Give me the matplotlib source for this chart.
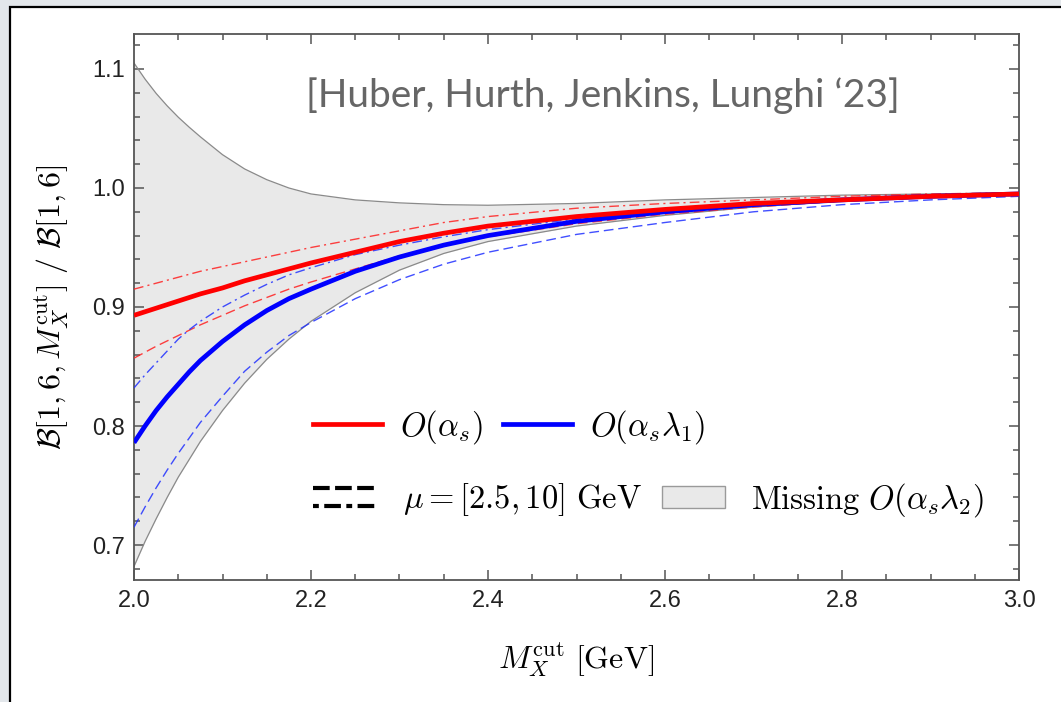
import numpy as np
import matplotlib
matplotlib.use("Agg")
import matplotlib.pyplot as plt
from matplotlib.patches import Rectangle, Patch
from matplotlib.lines import Line2D
from matplotlib.legend_handler import HandlerBase
from matplotlib.ticker import MultipleLocator

plt.rcParams['mathtext.fontset'] = 'cm'
plt.rcParams['font.family'] = ['Liberation Sans', 'DejaVu Sans']

# cut values M_X^cut [GeV]
mcut = [2.0, 2.0125, 2.025, 2.0375, 2.05, 2.0625, 2.075, 2.0875, 2.1, 2.125, 2.15,
        2.175, 2.2, 2.25, 2.3, 2.35, 2.4, 2.5, 2.6, 2.7, 2.8, 2.9, 3.0]

# missing O(alpha_s lambda_2) band
band_hi = [1.105, 1.0915, 1.0795, 1.069, 1.0595, 1.051, 1.043, 1.0355, 1.028, 1.016,
           1.007, 1.000, 0.995, 0.990, 0.9875, 0.986, 0.9855, 0.987, 0.990, 0.992,
           0.994, 0.995, 0.996]
band_lo = [0.682, 0.703, 0.722, 0.740, 0.757, 0.772, 0.787, 0.800, 0.813, 0.836,
           0.856, 0.873, 0.888, 0.912, 0.931, 0.945, 0.955, 0.968, 0.977, 0.984,
           0.989, 0.992, 0.995]

# O(alpha_s): central, mu = 2.5 GeV (dashed), mu = 10 GeV (dash-dot)
as_c  = [0.893, 0.896, 0.899, 0.902, 0.905, 0.908, 0.911, 0.9135, 0.916, 0.922,
         0.927, 0.932, 0.937, 0.946, 0.955, 0.962, 0.968, 0.976, 0.982, 0.987,
         0.990, 0.993, 0.995]
as_lo = [0.857, 0.862, 0.867, 0.8715, 0.876, 0.8805, 0.885, 0.889, 0.893, 0.901,
         0.908, 0.915, 0.921, 0.932, 0.943, 0.952, 0.959, 0.970, 0.978, 0.984,
         0.989, 0.992, 0.995]
as_hi = [0.915, 0.9175, 0.920, 0.9225, 0.925, 0.9275, 0.930, 0.932, 0.934, 0.938,
         0.942, 0.946, 0.950, 0.957, 0.964, 0.971, 0.976, 0.983, 0.987, 0.990,
         0.993, 0.995, 0.996]

# O(alpha_s lambda_1)
l1_c  = [0.786, 0.800, 0.813, 0.8245, 0.835, 0.8455, 0.855, 0.863, 0.871, 0.885,
         0.897, 0.907, 0.915, 0.930, 0.942, 0.952, 0.960, 0.972, 0.980, 0.986,
         0.990, 0.993, 0.995]
l1_lo = [0.715, 0.732, 0.748, 0.763, 0.777, 0.790, 0.803, 0.814, 0.825, 0.846,
         0.862, 0.876, 0.887, 0.907, 0.923, 0.936, 0.946, 0.961, 0.971, 0.980,
         0.986, 0.990, 0.993]
l1_hi = [0.832, 0.843, 0.853, 0.863, 0.873, 0.881, 0.888, 0.894, 0.900, 0.910,
         0.919, 0.927, 0.933, 0.944, 0.952, 0.959, 0.965, 0.974, 0.980, 0.985,
         0.989, 0.992, 0.994]

fig = plt.figure(figsize=(10.61, 7.02), dpi=100)
fig.patch.set_facecolor('#e3e7eb')
fig.add_artist(Rectangle((9.5/1061, -0.05), 1.1, 1.05 - 7/702, transform=fig.transFigure,
                         facecolor='white', edgecolor='black', lw=1.6, zorder=-1))

ax = fig.add_axes([134/1061, 1 - 580/702, 885/1061, 546/702])

ax.fill_between(mcut, band_lo, band_hi, color='#e9e9e9', lw=0, zorder=1)
ax.plot(mcut, band_hi, color='#8a8a8a', lw=0.9, zorder=2)
ax.plot(mcut, band_lo, color='#8a8a8a', lw=0.9, zorder=2)

dash = (0, (7, 3.5))
dashdot = (0, (7, 3, 1.5, 3))
ax.plot(mcut, as_lo, color='#ff2020', lw=1.0, ls=dash, alpha=0.85, zorder=3)
ax.plot(mcut, as_hi, color='#ff2020', lw=1.0, ls=dashdot, alpha=0.85, zorder=3)
ax.plot(mcut, l1_lo, color='#2030ff', lw=1.0, ls=dash, alpha=0.85, zorder=3)
ax.plot(mcut, l1_hi, color='#2030ff', lw=1.0, ls=dashdot, alpha=0.85, zorder=3)
ax.plot(mcut, l1_c, color='#0000ff', lw=3.4, zorder=4, solid_capstyle='butt')
ax.plot(mcut, as_c, color='#ff0000', lw=3.4, zorder=5, solid_capstyle='butt')

ax.set_xlim(2.0, 3.0)
ax.set_ylim(0.6706, 1.1294)
ax.xaxis.set_major_locator(MultipleLocator(0.2))
ax.xaxis.set_minor_locator(MultipleLocator(0.05))
ax.yaxis.set_major_locator(MultipleLocator(0.1))
ax.yaxis.set_minor_locator(MultipleLocator(0.02))
ax.xaxis.set_major_formatter(lambda v, p: f"{v:.1f}")
ax.yaxis.set_major_formatter(lambda v, p: f"{v:.1f}")
for s in ax.spines.values():
    s.set_color('#555555')
    s.set_linewidth(1.3)
ax.tick_params(which='both', direction='in', top=True, right=True, color='#555555',
               width=1.1, labelsize=17, labelcolor='#222222')
ax.tick_params(which='major', length=7)
ax.tick_params(which='minor', length=4)
ax.tick_params(axis='y', pad=6.5)
ax.tick_params(axis='x', pad=7)

ax.set_ylabel(r'$\mathcal{B}[1,6,M_X^{\rm cut}]\ /\ \mathcal{B}[1,6]$', fontsize=23,
              va='center')
ax.yaxis.set_label_coords(-0.0927, 0.5)
ax.set_xlabel(r'$M_X^{\rm cut}\ [\mathrm{GeV}]$', fontsize=23, va='center')
ax.xaxis.set_label_coords(0.5, -0.1465)

ax.text(0.53, 0.887, '[Huber, Hurth, Jenkins, Lunghi \u201823]', transform=ax.transAxes,
        ha='center', va='center', fontsize=28, color='#666666', family=['Lato', 'DejaVu Sans'])


class HandlerScaleVar(HandlerBase):
    # thick dashed over thick dash-dot, both black
    def create_artists(self, legend, orig_handle, xdescent, ydescent, width, height,
                       fontsize, trans):
        y1 = height * 0.5 + 6.5 - ydescent
        y2 = height * 0.5 - 6.5 - ydescent
        top = Line2D([-xdescent, width - xdescent], [y1, y1], color='black', lw=3.0,
                     ls=(0, (4.0, 1.3)), transform=trans)
        bot = Line2D([-xdescent, width - xdescent], [y2, y2], color='black', lw=3.0,
                     ls=(0, (1.4, 1.3, 4.0, 1.3)), transform=trans)
        return [top, bot]


row1 = [Line2D([], [], color='#ff0000', lw=3.4), Line2D([], [], color='#0000ff', lw=3.4)]
leg1 = ax.legend(row1, [r'$O(\alpha_s)$', r'$O(\alpha_s\lambda_1)$'], ncol=2,
                 loc='center left', bbox_to_anchor=(0.2023, 0.281), frameon=False,
                 fontsize=23.5, borderpad=0, borderaxespad=0, handlelength=2.1,
                 handletextpad=0.55, columnspacing=0.64)
ax.add_artist(leg1)

scale_var = object()
row2 = [scale_var, Patch(facecolor='#e9e9e9', edgecolor='#9a9a9a', lw=1.0)]
ax.legend(row2, [r'$\mu = [2.5, 10]\ \mathrm{GeV}$', r'$\mathrm{Missing}\ O(\alpha_s\lambda_2)$'],
          ncol=2, loc='center left', bbox_to_anchor=(0.2023, 0.147), frameon=False,
          fontsize=23.5, borderpad=0, borderaxespad=0, handlelength=1.95, handleheight=0.64,
          handletextpad=0.8, columnspacing=0.61,
          handler_map={scale_var: HandlerScaleVar()})

fig.savefig('out.png', dpi=100, facecolor=fig.get_facecolor())
